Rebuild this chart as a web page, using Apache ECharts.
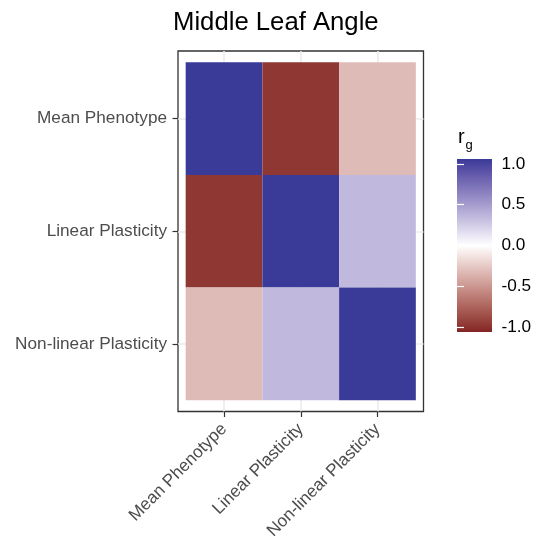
<!DOCTYPE html>
<html>
<head>
<meta charset="utf-8">
<script src="https://cdn.jsdelivr.net/npm/echarts@6/dist/echarts.min.js"></script>
<style>
  html, body { margin: 0; padding: 0; background: #ffffff; }
  #chart { width: 536px; height: 544px; }
</style>
</head>
<body>
<div id="chart"></div>
<script>
// Trait names, shared by both axes (top-to-bottom on y, left-to-right on x)
const traits = ['Mean Phenotype', 'Linear Plasticity', 'Non-linear Plasticity'];

// Genetic correlations, one row per y-axis trait
const rowMeanPhenotype = [1.00, -0.92, -0.30];
const rowLinearPlasticity = [-0.92, 1.00, 0.33];
const rowNonlinearPlasticity = [-0.30, 0.33, 1.00];

// Colour bar breaks
const legendBreaks = [-1.0, -0.5, 0.0, 0.5, 1.0];
const colourLimits = [-1, 1];

const rows = [rowMeanPhenotype, rowLinearPlasticity, rowNonlinearPlasticity];
const cells = [];
rows.forEach((row, i) => row.forEach((v, j) => cells.push([j + 1, i + 1, v])));

// Diverging palette interpolated in CIE Lab (low -> white -> high)
function hexToRgb(h) { return [1, 3, 5].map(k => parseInt(h.substr(k, 2), 16)); }
function toLin(c) { c /= 255; return c <= 0.04045 ? c / 12.92 : Math.pow((c + 0.055) / 1.055, 2.4); }
function fromLin(c) {
  const v = c <= 0.0031308 ? 12.92 * c : 1.055 * Math.pow(c, 1 / 2.4) - 0.055;
  return Math.round(Math.max(0, Math.min(1, v)) * 255);
}
const WHITE = [0.95047, 1.0, 1.08883];
function rgbToLab(rgb) {
  const [r, g, b] = rgb.map(toLin);
  const X = 0.4124564 * r + 0.3575761 * g + 0.1804375 * b;
  const Y = 0.2126729 * r + 0.7151522 * g + 0.0721750 * b;
  const Z = 0.0193339 * r + 0.1191920 * g + 0.9503041 * b;
  const f = t => t > 216 / 24389 ? Math.cbrt(t) : (24389 / 27 * t + 16) / 116;
  const fx = f(X / WHITE[0]), fy = f(Y / WHITE[1]), fz = f(Z / WHITE[2]);
  return [116 * fy - 16, 500 * (fx - fy), 200 * (fy - fz)];
}
function labToHex(lab) {
  const fy = (lab[0] + 16) / 116, fx = fy + lab[1] / 500, fz = fy - lab[2] / 200;
  const inv = t => t * t * t > 216 / 24389 ? t * t * t : (116 * t - 16) / (24389 / 27);
  const X = inv(fx) * WHITE[0], Y = inv(fy) * WHITE[1], Z = inv(fz) * WHITE[2];
  const r = 3.2404542 * X - 1.5371385 * Y - 0.4985314 * Z;
  const g = -0.9692660 * X + 1.8760108 * Y + 0.0415560 * Z;
  const b = 0.0556434 * X - 0.2040259 * Y + 1.0572252 * Z;
  return '#' + [r, g, b].map(fromLin).map(v => v.toString(16).padStart(2, '0')).join('');
}
function labRamp(stops, n) {
  const labs = stops.map(h => rgbToLab(hexToRgb(h)));
  const out = [];
  for (let i = 0; i < n; i++) {
    const t = i / (n - 1) * (labs.length - 1);
    const k = Math.min(Math.floor(t), labs.length - 2), u = t - k;
    out.push(labToHex(labs[k].map((v, d) => v + (labs[k + 1][d] - v) * u)));
  }
  return out;
}
const palette = labRamp(['#832424', '#ffffff', '#3A3A98'], 41);

// Colour bar fill: high values at the top
const barStops = palette.map((c, i) => ({ offset: 1 - i / (palette.length - 1), color: c })).reverse();

const FONT = '"Liberation Sans", Arial, Helvetica, sans-serif';
const BAR = { x: 457, y: 159, w: 35, h: 173 };

const chart = echarts.init(document.getElementById('chart'), null, { renderer: 'canvas' });
chart.setOption({
  animation: false,
  backgroundColor: '#ffffff',
  title: {
    text: 'Middle Leaf Angle',
    left: 173, top: 10, padding: 0,
    textStyle: { fontFamily: FONT, fontSize: 25.7, fontWeight: 'normal', color: '#000000' }
  },
  grid: [
    { left: 178, top: 51, width: 245.5, height: 360.5, show: true,
      borderColor: '#333333', borderWidth: 1.3, backgroundColor: 'transparent', containLabel: false },
    { left: BAR.x, top: BAR.y, width: BAR.w, height: BAR.h, show: false }
  ],
  xAxis: [
    {
      type: 'value', gridIndex: 0, min: 0.4, max: 3.6,
      axisLine: { show: false },
      axisTick: { show: true, customValues: [1, 2, 3], length: 5.5, lineStyle: { color: '#333333', width: 1.2 } },
      axisLabel: {
        customValues: [1, 2, 3], rotate: 45, margin: 15, padding: [10, 0, 0, 0],
        formatter: v => traits[Math.round(v) - 1],
        color: '#4D4D4D', fontFamily: FONT, fontSize: 17.2
      },
      splitLine: { show: true, lineStyle: { color: '#EBEBEB', width: 1.6 } }
    },
    { type: 'value', gridIndex: 1, show: false, min: 0, max: 1 }
  ],
  yAxis: [
    {
      type: 'value', gridIndex: 0, min: 0.4, max: 3.6, inverse: true,
      axisLine: { show: false },
      axisTick: { show: true, customValues: [1, 2, 3], length: 5.5, lineStyle: { color: '#333333', width: 1.2 } },
      axisLabel: {
        customValues: [1, 2, 3], margin: 11,
        formatter: v => traits[Math.round(v) - 1],
        color: '#4D4D4D', fontFamily: FONT, fontSize: 17.2
      },
      splitLine: { show: true, lineStyle: { color: '#EBEBEB', width: 1.6 } }
    },
    {
      type: 'value', gridIndex: 1, position: 'right', z: 10,
      min: -1.061, max: 1.061,
      axisLine: { show: false },
      axisTick: { show: true, inside: true, customValues: legendBreaks, length: 7, lineStyle: { color: '#ffffff', width: 1.2 } },
      axisLabel: {
        customValues: legendBreaks, margin: 9.5,
        formatter: v => v.toFixed(1),
        color: '#000000', fontFamily: FONT, fontSize: 17.2
      },
      splitLine: { show: false }
    },
    {
      type: 'value', gridIndex: 1, position: 'left', z: 10,
      min: -1.061, max: 1.061,
      axisLine: { show: false },
      axisTick: { show: true, inside: true, customValues: legendBreaks, length: 7, lineStyle: { color: '#ffffff', width: 1.2 } },
      axisLabel: { show: false },
      splitLine: { show: false }
    }
  ],
  visualMap: {
    type: 'continuous', show: false,
    min: colourLimits[0], max: colourLimits[1],
    dimension: 2, seriesIndex: 0,
    inRange: { color: palette }
  },
  graphic: [
    {
      type: 'rect', z: 1,
      shape: { x: BAR.x, y: BAR.y, width: BAR.w, height: BAR.h },
      style: { fill: new echarts.graphic.LinearGradient(0, 0, 0, 1, barStops) }
    },
    { type: 'text', left: 458, top: 127, style: { text: 'r', font: '20px ' + FONT, fill: '#000000' } },
    { type: 'text', left: 465.5, top: 139, style: { text: 'g', font: '13px ' + FONT, fill: '#000000' } }
  ],
  series: [{
    type: 'custom',
    xAxisIndex: 0, yAxisIndex: 0,
    data: cells,
    encode: { x: 0, y: 1 },
    renderItem: (params, api) => {
      const x = api.value(0), y = api.value(1);
      const p0 = api.coord([x - 0.5, y - 0.5]);
      const p1 = api.coord([x + 0.5, y + 0.5]);
      return {
        type: 'rect',
        shape: {
          x: Math.min(p0[0], p1[0]), y: Math.min(p0[1], p1[1]),
          width: Math.abs(p1[0] - p0[0]), height: Math.abs(p1[1] - p0[1])
        },
        style: { fill: api.visual('color') }
      };
    }
  }]
});
</script>
</body>
</html>
